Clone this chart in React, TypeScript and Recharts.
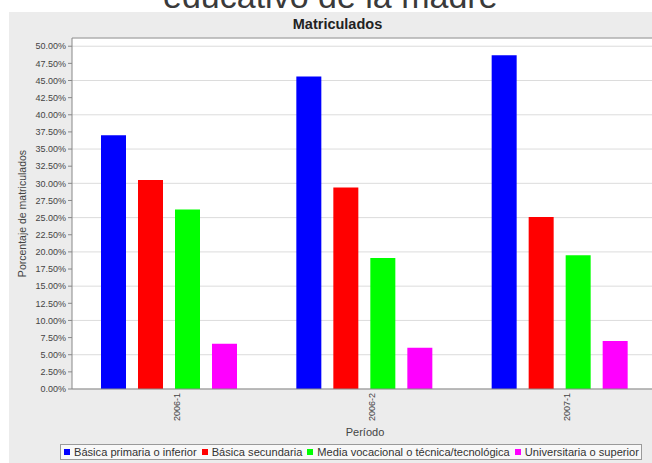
import React from 'react';
import { BarChart, Bar, XAxis, YAxis, CartesianGrid, Legend, ReferenceLine } from 'recharts';

const categories = ['2006-1', '2006-2', '2007-1'];
const basicaPrimaria = [37.0, 45.6, 48.7];
const basicaSecundaria = [30.5, 29.4, 25.1];
const mediaVocacional = [26.2, 19.1, 19.5];
const universitaria = [6.6, 6.0, 7.0];
const yTicks = [0, 2.5, 5, 7.5, 10, 12.5, 15, 17.5, 20, 22.5, 25, 27.5, 30, 32.5, 35, 37.5, 40, 42.5, 45, 47.5, 50];
const seriesNames = [
  'Básica primaria o inferior',
  'Básica secundaria',
  'Media vocacional o técnica/tecnológica',
  'Universitaria o superior',
];
const seriesColors = ['#0000ff', '#ff0000', '#00ff00', '#ff00ff'];

const data = categories.map((c, i) => ({
  periodo: c,
  s0: basicaPrimaria[i],
  s1: basicaSecundaria[i],
  s2: mediaVocacional[i],
  s3: universitaria[i],
}));

const FONT = '"Liberation Sans", Arial, sans-serif';

const XTick = (props: any) => {
  const { x, y, payload } = props;
  return (
    <g transform={`translate(${x + 7},${y - 4}) rotate(-90)`}>
      <text textAnchor="end" dy="0.35em" fontSize={9} fontFamily={FONT} fill="#444">
        {payload.value}
      </text>
    </g>
  );
};

const YLabel = (props: any) => {
  const vb = props.viewBox || {};
  const cx = 22;
  const cy = vb.y + vb.height / 2;
  return (
    <text
      x={cx}
      y={cy}
      transform={`rotate(-90, ${cx}, ${cy})`}
      textAnchor="middle"
      dominantBaseline="central"
      fontSize={10.5}
      fontFamily={FONT}
      fill="#444"
    >
      Porcentaje de matriculados
    </text>
  );
};

const LegendBox = (props: any) => {
  const payload = props.payload || [];
  return (
    <div
      style={{
        border: '1px solid #9a9a9a',
        background: '#f8f8f8',
        height: 16,
        display: 'flex',
        alignItems: 'center',
        paddingLeft: 3,
        fontFamily: FONT,
        fontSize: 11.1,
        color: '#333',
        whiteSpace: 'nowrap',
        boxSizing: 'border-box',
        overflow: 'hidden',
      }}
    >
      {payload.map((p: any, i: number) => (
        <span key={i} style={{ display: 'flex', alignItems: 'center', marginRight: 5 }}>
          <span style={{ width: 6, height: 6, background: p.color, display: 'inline-block', marginRight: 4 }} />
          {p.value}
        </span>
      ))}
    </div>
  );
};

export default function App() {
  return (
    <div style={{ position: 'absolute', left: 0, top: 0, width: 652, height: 463, overflow: 'hidden', background: '#fff' }}>
      <div
        style={{
          position: 'absolute',
          left: 163,
          top: -27,
          fontFamily: FONT,
          fontSize: 34,
          lineHeight: '47px',
          color: '#3a3a3a',
          whiteSpace: 'nowrap',
        }}
      >
        educativo de la madre
      </div>
      <div style={{ position: 'absolute', left: 9, top: 12, width: 643, height: 451, background: '#ececec' }} />
      <div
        style={{
          position: 'absolute',
          left: 0,
          top: 16,
          width: 675,
          textAlign: 'center',
          fontFamily: FONT,
          fontWeight: 'bold',
          fontSize: 14.5,
          color: '#222',
        }}
      >
        Matriculados
      </div>
      <div style={{ position: 'absolute', left: 0, top: 0 }}>
        <BarChart
          width={670}
          height={463}
          data={data}
          margin={{ top: 38, right: 12, bottom: 26, left: 8 }}
          barCategoryGap={29}
          barGap={12}
        >
          <CartesianGrid horizontal vertical={false} stroke="#dcdcdc" fill="#ffffff" />
          <XAxis
            dataKey="periodo"
            height={48}
            axisLine={{ stroke: '#888' }}
            tickLine={false}
            tick={<XTick />}
            interval={0}
            label={{ value: 'Período', position: 'insideBottom', offset: 1, fontSize: 11, fontFamily: FONT, fill: '#444' }}
          />
          <YAxis
            width={64}
            domain={[0, 51.2]}
            ticks={yTicks}
            allowDataOverflow
            axisLine={{ stroke: '#888' }}
            tickLine={{ stroke: '#888' }}
            tickSize={4}
            tickMargin={2}
            tickFormatter={(v: number) => v.toFixed(2) + '%'}
            tick={{ fontSize: 9, fontFamily: FONT, fill: '#444' }}
            label={<YLabel />}
          />
          <ReferenceLine y={51.2} stroke="#999" />
          <Legend
            verticalAlign="middle"
            align="center"
            layout="horizontal"
            wrapperStyle={{ top: 444, left: 60, width: 582, height: 16 }}
            content={<LegendBox />}
          />
          {['s0', 's1', 's2', 's3'].map((k, i) => (
            <Bar key={k} dataKey={k} name={seriesNames[i]} fill={seriesColors[i]} isAnimationActive={false} />
          ))}
        </BarChart>
      </div>
    </div>
  );
}
